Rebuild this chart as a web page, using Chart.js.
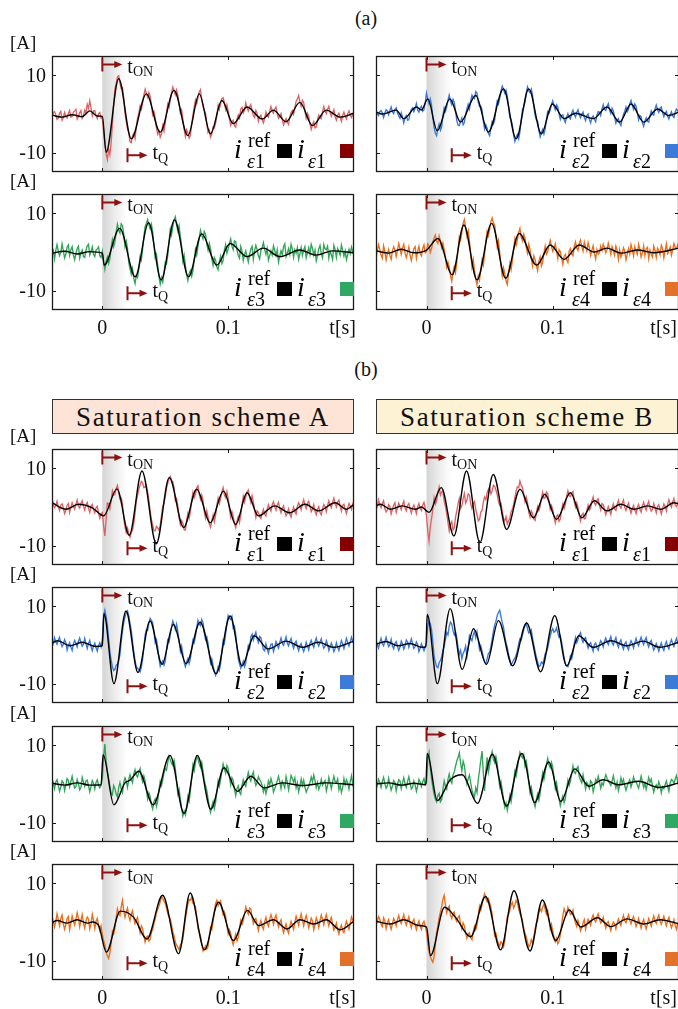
<!DOCTYPE html>
<html>
<head>
<meta charset="utf-8">
<script src="https://cdn.jsdelivr.net/npm/chart.js@4.4.1/dist/chart.umd.min.js"></script>
<style>
  body { margin: 0; width: 678px; height: 1009px; background: #fff; overflow: hidden; position: relative;
         font-family: "Liberation Serif", "DejaVu Serif", serif; color: #111; }
  canvas { position: absolute; }
  .cap { position: absolute; left: 336px; width: 60px; text-align: center; font-size: 20px; }
  .hdr { position: absolute; top: 399px; width: 300px; height: 33px; line-height: 34px; border: 1px solid #333;
         font-size: 27px; letter-spacing: 1.6px; text-align: center; }
</style>
</head>
<body>
<div class="cap" style="top:7px">(a)</div>
<div class="cap" style="top:358px">(b)</div>
<div class="hdr" style="left:52px;background:#fde4d6">Saturation scheme A</div>
<div class="hdr" style="left:376px;background:#fdf3d4">Saturation scheme B</div>
<script>
// time axis of the measured currents: first sample and step [s]
const T0 = -0.04, DT = 0.001;
const T_ON = 0, T_Q = 0.02;
const yTicks = [-10, 10];
const yTickLabels = ['-10', '10'];
const xTicks = [0, 0.1];
const xTickLabels = ['0', '0.1'];

// (a) reference currents (knots) and measured currents, phases 1..4
const refT_a1 = [-0.04,-0.032,-0.024,-0.016,-0.01,-0.004,0,0.003,0.013,0.023,0.035,0.046,0.057,0.068,0.077,0.086,0.095,0.104,0.115,0.127,0.136,0.146,0.157,0.167,0.178,0.189,0.2];
const ref_a1 = [-0.3,-0.8,-0.2,-0.7,0.8,-0.5,-0.6,-9.9,9.1,-6.4,5.2,-4.7,6.1,-5.6,5.2,-5.1,3.5,-2.5,1.8,-1.3,1.0,-2.0,3.0,-3.0,1.0,-0.8,0.2];
const meas_a1 = [-0.8,0.4,0.6,-0.2,-1.4,-1.0,0.2,0.7,-1.6,-0.9,0.4,-0.6,-1.0,0.2,0.9,-0.8,-0.6,0.5,0.8,1.2,
  -1.3,-0.7,0.3,0.9,-1.1,-0.4,1.0,0.3,2.5,1.4,3.4,1.6,-0.5,0.8,0.9,-0.4,-1.2,0.1,0.4,-1.1,
  -0.9,-4.6,-7.5,-10.2,-11.8,-9.1,-10.5,-7.4,-2.5,2.4,6.5,7.9,9.6,9.9,8.0,6.6,6.8,4.1,0.2,-1.9,
  -3.9,-4.8,-7.2,-7.4,-5.6,-5.0,-6.3,-3.2,-1.0,0.3,2.1,1.2,2.8,4.9,6.4,5.3,4.3,5.6,4.6,2.4,
  -0.2,0.6,-1.0,-3.6,-5.2,-4.4,-6.0,-5.1,-3.0,-4.5,-2.4,0.4,2.6,1.7,3.5,5.4,7.0,6.1,5.0,6.2,
  4.9,2.6,0.3,1.1,-1.3,-3.9,-5.8,-4.1,-4.9,-6.2,-5.5,-2.7,-0.3,1.8,3.6,2.6,4.2,5.7,6.3,3.8,
  1.9,1.0,0.2,-2.5,-4.8,-4.2,-6.0,-5.1,-3.4,-3.6,-2.4,-0.5,2.3,1.2,2.7,3.9,4.2,3.0,1.2,2.4,
  0.9,-1.3,-2.9,-2.0,-1.6,-3.0,-3.4,-1.4,-0.2,-1.0,1.2,1.7,0.3,1.0,2.9,1.6,0.8,1.9,2.5,0.9,
  -0.4,-0.9,0.9,0.2,-1.9,-0.7,-0.3,-1.5,-2.3,-1.1,0.5,-0.4,-0.8,0.6,1.9,0.8,0.2,1.3,1.8,0.1,
  -1.1,-0.6,0.1,-1.4,-2.8,-1.9,-1.2,-2.2,-2.7,-0.8,0.4,0.9,-0.1,1.6,3.3,3.9,4.8,3.2,2.0,3.6,
  3.0,0.8,-1.1,0.2,-0.6,-2.6,-4.0,-2.7,-2.0,-3.6,-3.4,-1.6,-0.3,-0.9,-1.2,0.6,1.9,0.8,0.1,1.2,
  2.0,0.4,-0.6,0.3,1.1,-0.7,-1.6,-0.4,0.2,-0.8,-1.9,-0.4,0.5,-0.6,-1.3,0.1,0.8,-0.3,-0.9,-0.1,
  0.6];

const refT_a2 = [-0.04,-0.035,-0.024,-0.018,-0.008,-0.004,0.001,0.0085,0.0185,0.027,0.039,0.049,0.061,0.071,0.081,0.091,0.0997,0.109,0.118,0.132,0.143,0.153,0.162,0.172,0.183,0.192,0.2];
const ref_a2 = [0.5,0,1.0,-1.2,1.8,1.0,3.9,-4.3,3.9,-2.1,4.8,-4.7,6.5,-6.4,6.5,-5.1,2.6,-1.2,0.2,-1.2,1.8,-2.1,2.6,-2.1,1.3,-0.4,0.5];
const meas_a2 = [1.2,0.1,-0.4,0.6,0.9,0.3,-0.9,0.2,1.1,0.8,-0.2,0.9,1.8,0.6,0.1,1.2,1.6,0.3,-0.5,-1.1,
  0.3,-0.8,-2.3,-0.9,-0.4,-1.6,-1.5,0.2,1.2,1.6,0.6,1.5,2.7,1.0,0.5,1.6,2.0,0.7,1.1,3.0,
  5.4,3.8,2.6,3.9,2.3,-0.9,-3.5,-4.9,-5.6,-3.8,-2.6,-4.2,-3.3,-0.4,1.6,0.7,1.8,3.6,4.9,3.3,
  2.4,3.8,2.9,0.9,-1.7,-2.9,-3.0,-1.9,-1.0,-2.8,-2.2,-0.1,1.4,2.5,1.3,3.4,4.9,4.3,4.0,5.8,
  5.4,3.1,1.9,2.0,1.1,-1.8,-3.9,-2.8,-3.7,-5.0,-5.6,-3.6,-2.0,-2.6,-1.6,1.4,3.4,2.6,4.1,6.0,
  7.2,6.4,5.4,6.1,4.6,2.0,-0.9,-1.5,-2.8,-5.4,-7.1,-6.0,-5.3,-6.4,-4.6,-1.5,1.1,1.9,3.0,5.4,
  7.0,6.0,5.5,6.4,4.9,2.0,-0.3,-1.5,-1.8,-4.2,-5.9,-4.8,-4.0,-5.2,-3.9,-1.4,0.6,0.1,1.0,2.5,
  3.4,2.0,1.1,2.4,1.8,0.0,-1.4,-0.4,-0.2,-1.5,-2.2,-0.8,0.1,-0.9,-1.3,0.3,1.0,-0.1,-0.8,0.4,
  1.1,-0.2,-1.0,-0.1,0.5,-0.9,-1.7,-0.4,0.0,-1.4,-2.3,-1.0,-0.5,-1.4,-2.0,-0.3,0.6,0.5,-0.4,1.3,
  2.4,1.2,0.9,2.0,2.7,1.1,0.1,1.5,0.8,-0.9,-2.4,-1.6,-1.2,-2.4,-3.0,-1.4,-0.1,0.7,1.8,0.6,
  1.2,2.6,3.5,2.2,1.2,2.6,2.0,0.3,-1.5,-0.4,-0.7,-2.3,-3.2,-1.8,-1.0,-1.9,-2.1,-0.4,0.8,0.0,
  -0.3,1.4,2.3,1.1,0.4,1.5,1.8,0.4,-0.7,0.2,0.7,-0.6,-1.3,-0.2,0.6,-0.5,-0.9,0.5,1.3,0.9,
  0.1];

const refT_a3 = [-0.04,-0.03,-0.02,-0.01,0,0.0015,0.0138,0.0262,0.0368,0.0468,0.0574,0.0685,0.079,0.091,0.1016,0.115,0.128,0.141,0.157,0.17,0.183,0.2];
const ref_a3 = [-0.3,0.2,-0.5,0.1,-0.3,-3.4,6.1,-6.4,7.6,-7.2,8.3,-6.4,4.7,-3.4,2.2,-1.2,1.0,-1.2,0.5,-0.8,0.3,-0.2];
const meas_a3 = [1.2,0.5,-1.8,0.4,1.9,0.2,-1.0,-0.1,2.1,0.3,-1.5,-0.6,1.3,1.8,-0.9,0.6,1.4,-0.8,-2.0,-0.4,
  0.9,1.5,-1.6,-0.2,0.5,-1.2,-1.4,0.4,1.6,2.0,-0.8,0.1,1.3,-0.6,-1.2,0.5,0.8,1.3,-1.0,-1.4,
  0.2,-2.6,-4.5,-2.4,-1.3,-3.0,-1.8,1.2,3.2,1.4,2.6,5.3,7.2,5.6,4.9,7.3,6.8,4.6,1.4,2.8,
  0.9,-2.7,-4.4,-5.8,-4.3,-6.9,-8.2,-6.1,-6.6,-4.2,-1.2,-2.1,0.6,3.9,6.6,7.4,8.4,7.1,6.0,7.2,
  5.2,1.6,-1.5,-0.6,-3.4,-6.4,-8.3,-6.7,-7.8,-5.6,-2.7,-3.1,-0.9,2.8,5.9,4.4,6.6,8.3,9.1,7.0,
  5.4,6.8,4.1,1.6,-2.3,-0.8,-3.5,-5.9,-7.4,-5.6,-4.8,-6.3,-4.9,-2.0,0.7,-0.8,1.4,3.7,5.6,4.3,
  3.4,5.3,4.6,2.1,0.5,2.3,0.8,-1.7,-3.5,-1.4,-2.1,-3.9,-4.6,-2.5,-1.1,-3.0,-2.2,0.4,1.9,-0.3,
  0.8,2.2,3.4,1.5,0.6,2.9,2.7,0.6,-0.9,-1.6,1.4,0.2,-2.2,-0.7,0.3,-1.2,-2.6,-0.6,0.8,1.5,
  -1.9,0.3,1.7,0.6,-1.0,-1.8,0.4,1.1,2.4,0.7,-0.6,0.9,-2.1,-1.0,0.3,-0.8,1.6,0.4,-0.9,0.6,
  -2.6,-1.1,0.3,-0.7,1.4,2.1,-1.2,-0.3,0.9,-0.6,2.0,0.8,-1.4,0.6,-0.3,1.1,-1.9,-0.5,1.2,-0.9,
  0.5,1.4,-1.5,-0.2,1.1,-0.6,2.0,0.9,-0.8,0.5,-2.3,-0.9,0.8,1.7,-0.4,-1.5,1.9,0.8,0.6,1.5,
  -1.6,0.2,-0.7,-1.9,1.7,0.6,-1.4,0.9,0.2,-0.8,1.8,0.4,-1.1,0.3,-2.0,-0.7,0.7,-0.4,1.3,0.1,
  -1.2];

const refT_a4 = [-0.04,-0.03,-0.02,-0.01,0,0.009,0.0204,0.0296,0.040,0.0516,0.0627,0.0733,0.0873,0.098,0.109,0.121,0.1328,0.143,0.154,0.167,0.18,0.2];
const ref_a4 = [0.3,-0.3,0.7,-0.2,0.5,3.5,-5.9,7.0,-7.2,7.4,-6.8,4.8,-3.4,1.8,-1.9,1.8,0,1.0,-0.3,0.5,-0.2,1.0];
const meas_a4 = [-1.5,0.3,1.9,0.7,-0.8,-1.6,1.6,0.2,-2.1,-0.5,0.7,-0.9,-1.9,0.3,1.4,0.5,-1.2,0.4,2.2,0.9,
  -0.6,1.1,2.0,-0.3,-1.4,-0.2,1.3,-0.8,-2.2,-0.4,0.9,1.4,-1.6,0.2,1.5,-0.4,-1.0,0.9,1.8,-0.2,
  0.2,2.1,1.6,-0.1,0.9,2.4,3.6,4.4,2.8,2.2,4.2,2.9,1.1,2.3,0.6,-1.4,-3.9,-2.6,-4.0,-6.1,
  -7.6,-5.2,-3.8,-5.3,-2.7,0.8,3.9,3.0,5.1,7.4,8.4,6.3,4.1,5.5,2.8,-0.2,-3.8,-1.9,-4.9,-7.0,
  -8.5,-6.2,-7.3,-4.5,-2.0,-3.4,-0.6,2.7,5.3,4.2,5.8,7.9,8.8,7.6,6.9,4.0,1.3,2.9,-0.2,-3.6,
  -6.2,-4.1,-5.6,-7.5,-8.4,-5.4,-3.0,-4.6,-2.3,0.9,3.4,1.8,3.2,5.0,6.1,3.9,2.9,4.6,3.7,1.2,
  -0.3,2.0,0.6,-1.8,-3.6,-1.0,-2.0,-3.4,-4.8,-2.4,-1.3,-3.6,-2.6,-0.4,1.5,-0.6,0.1,1.7,3.0,1.4,
  0.2,0.9,2.1,0.3,-1.7,0.6,0.1,-1.6,-3.2,-1.1,-0.6,-2.0,-2.7,0.2,0.9,-0.5,-1.0,1.4,2.6,1.0,
  0.4,2.2,3.1,1.4,0.2,2.6,1.4,0.3,2.4,1.1,-0.9,0.4,1.6,-0.5,-1.8,0.6,-0.6,-0.2,1.5,0.4,
  2.0,1.1,-0.2,0.6,2.3,1.0,-0.6,1.4,0.4,-0.8,1.5,0.4,-1.9,0.6,-1.3,-0.4,1.1,0.3,-2.0,-0.6,
  0.9,-0.5,1.9,0.6,-1.0,1.4,0.3,-0.6,2.0,0.7,-1.3,-0.2,1.6,-0.9,0.8,1.2,-1.7,0.5,-0.6,-1.3,
  1.5,0.4,-1.4,1.0,0.4,-0.7,1.7,0.9,-1.5,0.3,2.1,-0.4,0.2,1.3,-0.8,0.6,2.2,1.1,0.9,1.8,
  0.3];

// (b) saturation scheme A
const refT_sA1 = [-0.04,-0.029,-0.019,-0.008,0.001,0.0116,0.0214,0.0315,0.0429,0.0532,0.0646,0.075,0.0857,0.0963,0.106,0.115,0.124,0.137,0.149,0.161,0.172,0.185,0.194,0.2];
const ref_sA1 = [1.1,-0.6,0.7,-0.2,-2.3,4.7,-7.3,9.3,-9.5,7.6,-5.3,4.6,-4.1,4.1,-4.5,3.7,-2.3,0.3,-1.5,0.7,-1.0,1.1,-0.6,0.7];
const meas_sA1 = [2.2,0.6,-0.2,0.3,1.5,0.1,-0.9,0.5,0.8,-0.2,-1.7,-0.9,0.4,0.9,-1.4,-0.1,1.1,0.2,-0.5,0.7,
  1.8,0.2,-0.3,0.9,1.6,0.3,-0.8,0.6,1.2,-0.3,-1.4,0.2,0.7,-0.6,-1.5,-0.2,0.2,-1.6,-2.9,-1.8,
  -1.4,-4.8,-7.5,-3.2,1.0,0.9,-0.4,1.6,4.2,3.1,3.3,4.8,5.6,3.9,2.0,2.3,0.8,-2.6,-5.2,-6.6,
  -5.5,-6.9,-7.8,-6.6,-6.0,-4.2,-1.5,1.4,3.0,4.6,5.7,6.6,6.3,5.0,5.2,5.6,3.9,1.8,-1.0,-3.2,
  -4.6,-6.1,-6.2,-5.0,-5.4,-6.0,-4.7,-2.2,0.2,0.9,2.6,4.9,6.1,7.4,7.9,6.8,6.6,4.9,1.6,2.2,
  0.3,-2.8,-4.6,-3.5,-4.1,-5.9,-6.0,-3.4,-1.6,-2.9,-1.2,1.7,3.8,2.4,3.3,4.9,5.5,3.4,2.0,3.1,
  1.7,-1.2,-2.8,-1.0,-2.6,-4.4,-5.2,-3.6,-2.1,-3.8,-2.2,0.4,2.3,0.9,2.2,3.9,5.0,3.1,2.4,4.0,
  2.2,-0.4,-2.6,-1.2,-2.5,-4.3,-5.4,-3.6,-2.5,-4.0,-2.2,0.6,2.8,1.3,2.6,3.8,4.4,2.6,1.2,2.9,
  1.3,-0.8,-2.7,-1.0,-1.4,-2.5,-3.0,-1.6,-0.6,-1.8,-2.3,-0.6,0.6,-0.3,-1.1,0.6,1.4,0.1,-0.8,0.5,
  1.2,-0.4,-1.5,-0.3,0.3,-1.2,-2.3,-1.6,-0.5,-1.8,-2.6,-1.0,0.0,-1.2,-1.8,0.2,1.1,0.4,-0.7,0.8,
  1.9,0.5,-0.4,0.9,1.5,0.1,-1.2,-0.5,0.6,-1.1,-2.0,-0.6,0.1,-1.4,-2.0,-0.5,0.6,0.1,-1.2,0.4,
  1.6,0.5,-0.2,1.2,2.3,0.9,0.0,1.3,1.8,0.2,-1.0,0.4,0.7,-0.6,-1.7,-0.3,0.9,0.3,-0.6,0.8,
  1.6];

const refT_sA2 = [-0.04,-0.0354,-0.0258,-0.0162,-0.0051,0,0.0013,0.0092,0.0188,0.0283,0.0379,0.0475,0.0564,0.0666,0.0777,0.0904,0.1016,0.111,0.1207,0.1318,0.146,0.159,0.1717,0.184,0.2];
const ref_sA2 = [0.5,1.1,-0.2,0.7,-0.4,-0.2,8.1,-10.0,8.8,-7.1,6.2,-5.0,5.3,-4.8,5.9,-7.4,7.5,-5.4,2.4,-1.0,1.0,-0.6,0.7,-0.6,1.0];
const meas_sA2 = [-0.6,0.4,1.9,0.8,0.2,1.3,2.0,0.5,-0.4,0.2,1.4,0.6,-1.3,-0.1,0.6,-0.5,-1.4,0.3,1.2,0.4,
  -0.5,0.9,1.8,0.6,-0.3,0.2,1.7,0.3,-0.9,0.4,1.2,-0.4,-1.5,-0.3,0.5,-0.7,-1.6,-0.2,0.6,-0.5,
  1.5,7.6,9.0,7.4,5.2,1.6,-1.8,-3.9,-5.6,-6.6,-6.3,-5.2,-5.0,-4.1,-2.4,0.9,3.6,5.8,7.2,8.3,
  8.8,7.6,5.6,3.8,0.9,-1.7,-4.1,-5.6,-6.0,-6.4,-7.0,-5.8,-3.7,-0.6,2.6,3.9,3.8,5.7,6.9,6.4,
  5.8,3.3,0.6,1.4,-0.6,-3.4,-5.5,-4.6,-4.1,-5.2,-4.2,-1.2,1.3,0.8,2.5,4.6,6.2,5.3,4.0,5.4,
  3.5,1.1,-1.6,-0.3,-2.4,-4.5,-5.6,-4.4,-3.5,-4.8,-3.6,-0.9,1.3,0.6,2.2,4.5,6.4,5.4,5.0,6.6,
  5.8,3.2,1.4,2.1,0.4,-2.4,-4.7,-3.6,-5.3,-6.8,-7.9,-7.1,-5.7,-6.6,-4.9,-1.6,1.2,0.4,3.0,5.6,
  7.6,6.9,6.6,7.4,4.4,4.9,2.8,-0.6,-3.5,-4.9,-6.0,-5.1,-4.2,-5.6,-4.6,-2.1,-0.1,-0.9,2.1,2.8,
  1.3,2.5,3.3,1.6,0.6,2.2,1.9,0.2,-1.2,-1.5,0.3,-0.9,-2.1,-0.8,0.2,0.3,-1.7,-0.6,0.9,0.1,
  -0.8,0.6,1.8,0.4,-0.1,1.0,2.1,0.5,-0.2,0.9,1.7,0.2,-0.9,0.5,1.0,-0.4,-1.5,-0.2,0.4,-0.8,
  -1.7,-0.6,0.7,-0.3,-1.3,0.4,1.2,0.1,-0.6,0.8,1.8,0.5,-0.3,0.7,1.6,0.2,-0.8,-0.3,1.1,0.2,
  -1.4,-0.5,0.5,-0.4,-1.7,-0.9,0.6,-0.5,-1.4,-0.2,1.1,0.3,-0.9,0.4,1.7,0.6,-0.3,0.8,2.0,0.9,
  0.2];

const refT_sA3 = [-0.04,-0.03,-0.02,-0.01,-0.001,0.0006,0.0092,0.018,0.022,0.029,0.0404,0.0538,0.065,0.0755,0.0863,0.0968,0.1073,0.118,0.1287,0.143,0.159,0.178,0.2];
const ref_sA3 = [0.2,-0.3,0.3,-0.3,-0.2,7.6,-5.4,0.3,1.0,3.3,-5.4,7.4,-7.6,7.4,-6.5,4.2,-1.9,2.0,-1.0,0.3,-0.4,0.3,-0.2];
const meas_sA3 = [1.6,0.2,-1.2,0.5,1.1,-0.3,-1.9,-0.8,0.8,0.4,-1.7,-0.2,1.4,0.9,-0.8,0.6,2.0,0.3,-1.0,-0.7,
  1.2,0.1,-1.5,-0.9,1.7,0.5,-0.6,0.8,1.0,-0.4,-2.0,-0.6,0.9,0.2,-1.3,0.4,1.1,-0.3,-1.0,-0.4,
  1.5,6.8,10.3,6.0,3.2,1.5,-0.6,-2.4,-2.8,-0.4,-1.2,-2.6,-3.4,-1.0,0.4,-1.3,-2.2,0.5,1.6,0.7,
  -0.9,1.1,2.4,1.2,0.3,2.6,3.7,2.2,1.8,3.1,4.0,1.9,0.6,2.1,0.9,-1.6,-3.8,-2.3,-3.2,-5.4,
  -6.5,-4.6,-3.9,-5.8,-4.5,-1.6,0.7,-0.4,1.1,2.9,4.0,3.6,5.6,7.2,6.3,5.4,4.8,6.1,4.0,0.6,
  -2.6,-1.4,-3.9,-6.4,-8.3,-7.0,-8.0,-5.9,-3.2,-4.4,-1.8,1.6,4.9,3.5,5.4,7.1,6.6,5.2,4.3,5.6,
  3.4,1.0,-0.4,-1.6,-3.8,-5.9,-7.3,-5.7,-4.6,-6.4,-4.8,-1.9,0.8,-0.6,1.1,3.4,5.2,3.9,2.8,4.8,
  4.0,1.9,-0.2,1.6,0.9,-1.4,-3.0,-1.2,-0.5,-2.1,-2.7,-0.3,1.1,0.0,-0.6,1.5,3.0,1.6,0.8,2.2,
  3.1,0.9,-0.4,0.3,1.9,1.2,0.6,-0.4,-2.0,-0.6,-2.5,-1.1,0.8,-0.3,1.4,0.2,-2.1,-1.2,-0.3,0.8,
  2.0,0.6,-1.2,0.7,-0.1,-1.0,1.9,0.4,-1.5,0.3,2.2,1.4,0.5,1.6,-1.0,0.3,-2.0,-0.6,1.3,-0.3,
  1.0,-0.8,-2.1,-1.3,-0.6,0.4,1.8,0.6,2.3,0.9,-0.9,0.4,-1.4,-0.5,1.2,-0.3,0.3,0.9,-1.8,-0.4,
  1.7,0.2,-1.2,0.5,2.0,0.7,0.4,1.3,-1.5,-0.2,-2.2,-0.9,1.4,-0.2,1.1,0.3,-1.3,0.6,2.1,-0.1,
  1.2];

const refT_sA4 = [-0.04,-0.036,-0.028,-0.02,-0.012,-0.008,-0.003,0.0032,0.0143,0.0249,0.0354,0.0479,0.0606,0.0698,0.0812,0.0923,0.1042,0.1153,0.1243,0.136,0.1467,0.157,0.168,0.178,0.189,0.2];
const ref_sA4 = [-0.2,0.4,-0.3,0.6,-0.3,0.0,-0.9,-7.8,2.8,1.2,-4.4,6.9,-8.2,7.5,-7.2,5.1,-4.8,3.0,-0.9,0.6,-1.8,0.6,-0.5,0.6,-2.0,0.2];
const meas_sA4 = [1.4,0.3,-1.3,0.1,2.1,0.6,-1.0,0.9,1.8,-0.4,-1.9,-0.6,0.9,1.4,-2.0,-0.3,1.6,0.2,-0.8,0.7,
  2.4,1.0,-1.2,0.5,1.9,-0.2,-1.6,0.3,1.3,0.8,-1.8,-0.5,2.0,0.4,-1.7,0.2,0.9,-0.8,-2.3,-1.0,
  -3.2,-4.8,-5.9,-7.8,-8.7,-9.4,-8.0,-5.4,-2.4,-3.1,-1.6,1.2,3.4,2.2,1.7,3.9,5.6,2.8,1.2,2.6,
  3.6,1.5,0.4,2.0,2.9,0.9,-0.4,0.6,1.2,-1.1,-2.8,-1.0,-1.7,-3.6,-5.2,-3.9,-3.6,-4.9,-4.5,-2.6,
  -2.0,-0.4,0.7,2.4,3.2,4.1,5.2,6.6,6.1,5.4,4.8,3.6,2.1,1.3,0.9,-0.7,-2.5,-3.6,-5.2,-6.0,
  -6.5,-7.2,-5.9,-5.4,-4.4,-1.8,0.8,2.6,4.6,5.8,5.6,6.4,4.9,4.6,3.9,1.4,-1.8,-2.6,-3.6,-5.6,
  -7.5,-6.9,-6.2,-7.0,-6.4,-3.6,-1.3,-1.9,0.0,2.6,4.8,5.6,4.2,4.9,5.5,3.4,1.9,2.6,1.5,-1.0,
  -3.1,-2.0,-3.0,-4.6,-5.9,-4.6,-3.2,-4.9,-4.0,-1.6,0.4,-0.6,0.3,2.2,3.9,2.8,2.0,3.6,3.4,1.2,
  -0.4,0.6,0.9,-0.7,-2.2,-0.6,0.4,-1.2,-1.9,0.1,1.2,-0.4,-1.1,0.6,1.9,0.8,-0.6,0.9,1.8,0.2,
  -1.3,-0.1,0.6,-1.4,-2.8,-1.6,-0.5,-2.0,-2.9,-1.1,0.2,-0.9,-1.9,0.1,1.5,0.4,-0.9,0.8,2.1,0.5,
  -1.0,0.6,1.7,0.2,-1.5,-0.4,1.0,0.3,-2.0,-0.7,1.1,0.2,-1.4,0.4,1.8,0.6,-0.7,0.8,1.9,0.3,
  -1.0,0.4,1.2,-0.6,-2.1,-1.4,-0.3,-2.0,-3.1,-1.6,-0.8,-2.2,-2.8,-1.0,0.2,-0.8,-1.9,-0.4,1.3,0.5,
  -0.9];

// (b) saturation scheme B
const refT_sB1 = [-0.04,-0.0365,-0.0286,-0.0193,-0.0087,-0.004,0.002,0.0117,0.0217,0.0317,0.0423,0.0529,0.0635,0.0741,0.0847,0.0937,0.103,0.114,0.123,0.133,0.143,0.154,0.1646,0.175,0.1858,0.196,0.2];
const ref_sB1 = [0.3,0.7,-0.6,0.3,-0.6,0.0,-1.4,5.0,-7.5,9.3,-9.2,8.4,-5.8,4.6,-2.8,3.3,-3.2,3.7,-2.8,1.6,-1.0,0.7,-0.6,0.3,-0.6,1.1,0.8];
const meas_sB1 = [-0.9,0.2,1.8,0.6,-0.2,0.9,1.6,-0.4,-1.3,-0.8,0.6,0.1,-1.8,-0.6,0.5,1.1,-1.4,-0.2,1.0,0.2,
  -0.7,0.6,1.5,-0.3,-1.0,0.4,0.9,-0.5,-1.6,-0.2,0.5,-0.6,-1.7,0.1,0.9,-0.4,-0.9,0.5,1.2,-0.3,
  -2.4,-6.2,-8.8,-5.1,-3.0,-0.6,2.4,0.7,1.6,3.8,5.2,3.1,3.9,4.2,1.5,0.2,-1.8,-4.0,-6.2,-4.5,
  -3.8,-6.0,-5.4,-2.6,-1.0,0.8,2.2,-0.4,0.3,2.1,3.5,1.0,1.8,3.4,3.1,0.9,-0.4,0.8,1.4,-0.6,
  -2.0,-3.6,-3.2,-1.3,-0.9,1.2,2.6,1.9,3.7,4.6,5.1,3.4,4.2,5.6,5.3,4.4,3.2,1.4,0.4,0.9,
  -1.2,-2.9,-3.6,-2.5,-4.4,-3.6,-2.9,-1.2,-0.6,0.6,2.4,4.1,5.2,5.0,6.7,5.6,5.1,3.3,1.4,2.6,
  1.2,-1.4,-2.6,-1.0,-1.7,-3.1,-3.5,-1.6,0.1,-0.9,0.2,2.2,3.8,2.2,2.4,3.9,3.4,1.4,-0.6,0.4,
  -0.7,-2.6,-4.1,-2.4,-2.0,-3.7,-3.1,-0.9,0.8,-0.4,0.6,2.8,4.2,2.9,2.7,3.6,4.0,1.6,0.0,1.1,
  -0.1,-2.1,-3.6,-2.0,-1.6,-3.1,-2.9,-0.9,0.5,-0.8,-0.3,1.6,2.6,1.0,0.5,1.7,2.1,0.4,-0.8,0.9,
  0.6,-0.6,-2.0,-0.8,0.1,-1.0,-1.9,-0.2,0.8,-0.5,-0.9,0.6,1.7,0.3,-0.3,0.9,1.8,-0.1,-0.9,0.2,
  1.0,-0.6,-1.6,-0.4,0.4,-0.8,-1.7,-0.1,0.7,-0.6,-1.3,0.3,1.2,-0.1,-0.8,0.6,1.5,-0.2,-1.1,-0.6,
  0.9,-0.3,-1.5,0.1,0.6,-0.7,-1.8,-0.4,0.8,0.1,-1.0,0.7,1.9,0.8,0.0,1.3,2.2,0.5,0.1,0.9,
  1.7];

const refT_sB2 = [-0.04,-0.0322,-0.0226,-0.0131,-0.0035,-0.0005,0.0006,0.0086,0.0188,0.0283,0.0373,0.0475,0.057,0.0682,0.0793,0.0904,0.1016,0.1111,0.1207,0.1318,0.1462,0.1589,0.1717,0.1844,0.2];
const ref_sB2 = [0.2,0.9,-0.2,0.4,-0.6,-0.4,7.9,-10.0,9.4,-6.3,4.2,-5.0,6.3,-5.4,5.7,-6.9,7.6,-5.4,2.4,-0.6,1.1,-0.2,1.0,-0.6,0.7];
const meas_sB2 = [1.3,0.2,-0.8,0.6,1.7,0.4,-0.2,0.9,2.0,0.7,-0.4,0.1,1.5,-0.2,-1.0,0.4,0.9,-0.3,-1.4,-0.6,
  1.0,0.3,-1.1,-0.2,1.3,0.8,-0.6,0.5,1.6,0.2,-0.9,-0.4,0.8,0.1,-1.7,-0.8,0.3,-0.6,-1.5,-0.5,
  0.6,4.8,6.2,5.5,4.0,0.9,-2.8,-4.4,-5.6,-5.9,-4.6,-4.0,-3.1,-1.4,-0.4,1.4,3.2,2.6,4.8,5.9,
  5.4,3.7,2.6,3.4,1.9,-0.7,-2.4,-1.4,-3.6,-2.2,-1.5,-0.3,-3.0,-0.6,2.4,1.7,1.1,2.6,3.5,1.9,
  3.4,1.1,-1.2,-0.2,-1.6,-3.1,-4.4,-4.8,-3.6,-2.2,-1.9,-0.4,1.5,3.6,5.2,6.1,7.6,8.4,9.0,7.3,
  5.8,4.6,2.2,0.6,-0.6,-2.4,-3.8,-5.1,-4.6,-3.9,-3.4,-2.6,-1.4,0.3,1.6,1.2,2.5,4.0,4.9,5.6,
  4.2,3.1,3.3,3.9,1.8,0.1,-1.6,-3.1,-4.3,-5.6,-5.4,-4.4,-4.8,-3.9,-2.3,-1.9,-0.8,0.9,2.3,3.6,
  4.2,3.3,3.6,4.4,3.1,2.0,2.4,0.9,-1.2,-3.3,-4.8,-5.4,-5.6,-4.6,-2.9,-3.6,-2.1,0.2,1.9,0.6,
  1.4,2.6,3.2,1.5,0.7,1.6,1.9,0.4,-0.8,0.2,0.6,-0.5,-1.6,0.1,0.5,-0.7,-1.3,0.2,1.1,0.5,
  -0.5,0.9,1.8,0.8,0.1,1.3,2.2,0.6,0.0,1.1,1.9,0.3,-0.6,0.7,1.3,-0.2,-1.1,0.3,0.8,-0.5,
  -1.2,0.2,1.1,0.4,-0.8,0.6,1.7,0.5,-0.2,1.1,2.0,0.9,0.1,1.2,1.9,0.4,-0.5,0.7,1.2,-0.2,
  -1.3,-0.6,0.4,-0.5,-1.6,-0.4,0.5,-0.7,-1.4,0.1,0.9,-0.3,-1.0,0.5,1.4,0.3,-0.4,0.8,1.7,0.6,
  0.0];

const refT_sB3 = [-0.04,-0.03,-0.02,-0.01,-0.0005,0.0006,0.0086,0.0188,0.0283,0.0404,0.0522,0.0634,0.0755,0.0857,0.0968,0.1064,0.1175,0.1287,0.14,0.1525,0.168,0.184,0.2];
const ref_sB3 = [0.0,0.3,-0.3,0.2,-0.2,7.9,-4.3,1.1,2.4,-5.0,7.7,-5.7,7.9,-4.8,5.7,-4.5,3.9,-0.6,1.1,-0.2,0.7,-0.9,0.3];
const meas_sB3 = [-1.5,-0.3,1.2,0.4,-0.9,0.6,1.7,0.2,-1.1,-0.5,1.5,-0.1,-1.6,-0.6,0.9,0.4,-1.8,-0.2,1.1,0.8,
  -1.2,0.3,1.6,0.1,-0.9,0.7,1.9,0.2,-1.3,-0.8,0.8,-0.3,-1.9,-0.4,1.2,0.5,-0.7,0.6,1.4,-0.2,
  0.3,6.4,8.1,4.3,1.4,-0.9,-2.7,-3.9,-4.6,-3.0,-2.4,-4.6,-4.1,-1.4,0.8,-0.6,-1.3,1.2,2.6,0.9,
  0.2,2.4,3.1,4.6,5.9,6.9,8.1,5.4,3.4,5.9,4.8,2.0,0.1,1.4,2.3,0.3,-1.6,-2.6,-3.4,-1.0,
  -2.2,1.1,3.5,6.2,8.5,2.9,-1.8,3.4,6.9,3.1,4.8,7.0,8.4,6.3,5.5,7.1,5.3,2.0,-0.7,0.6,
  -1.5,-4.1,-6.0,-4.9,-6.8,-5.0,-3.0,-4.6,-2.4,0.6,3.3,2.1,4.0,6.4,8.2,7.3,6.8,7.6,4.7,5.9,
  3.8,0.4,-2.3,-0.9,-2.8,-4.6,-5.9,-4.0,-2.6,-4.2,-2.5,0.6,2.8,1.2,3.1,5.1,6.6,4.9,4.2,5.6,
  4.3,1.7,-1.2,0.3,-2.0,-3.9,-5.6,-4.2,-3.1,-4.8,-3.7,-1.1,1.0,-0.4,0.7,2.6,4.7,3.0,2.7,4.0,
  4.5,1.9,1.0,0.3,2.4,0.6,-1.3,0.4,-0.2,-1.1,0.8,0.3,-2.0,-0.6,1.2,0.5,2.0,0.6,-1.1,0.3,
  -0.3,1.2,2.4,1.5,0.9,0.2,-0.4,0.8,2.1,0.4,-1.0,0.5,-1.7,-0.3,1.6,0.2,1.2,-0.4,-1.6,-0.5,
  0.4,1.1,-0.8,0.3,1.8,0.6,0.7,-0.3,-1.1,0.4,2.0,0.6,-0.9,0.2,-1.4,0.1,1.7,0.4,1.3,-0.5,
  -2.1,-0.8,-0.2,-1.1,0.6,-0.4,-2.3,-0.7,-1.2,-0.2,0.8,-0.6,-1.9,0.2,1.2,0.9,0.1,1.3,2.2,0.5,
  -0.6];

const refT_sB4 = [-0.04,-0.0286,-0.018,-0.006,0.0,0.0032,0.0143,0.023,0.0349,0.0468,0.0587,0.0693,0.082,0.0918,0.1024,0.113,0.1222,0.1354,0.146,0.159,0.172,0.185,0.2];
const ref_sB4 = [0.2,-0.5,0.6,-0.9,-1.3,-8.7,3.8,1.2,-3.8,6.6,-7.2,8.1,-7.5,5.7,-4.8,3.1,-1.3,1.1,-1.2,0.8,-0.5,0.6,-0.5];
const meas_sB4 = [-1.1,0.2,1.4,0.7,-0.6,-1.2,1.1,0.3,-1.7,-0.2,0.6,-0.8,-1.9,-0.4,0.9,0.2,-1.0,0.6,1.7,0.3,
  -0.4,0.8,1.9,0.2,-0.8,0.4,1.4,-0.3,-1.5,0.1,0.7,-0.9,-2.0,-0.6,0.3,-1.2,-1.9,-0.4,0.2,-1.1,
  -2.5,-5.6,-7.6,-8.9,-9.8,-10.4,-9.0,-5.8,-2.6,-1.0,1.2,2.6,4.0,5.9,6.9,4.4,2.4,3.6,4.1,1.8,
  0.9,2.2,2.6,0.8,0.1,1.2,1.6,-0.6,-1.8,-0.2,-1.0,-2.9,-4.2,-3.1,-2.8,-4.0,-4.6,-2.6,-1.1,-2.0,
  -0.8,1.6,4.1,3.0,4.4,6.2,7.3,6.1,5.2,6.0,5.0,3.8,2.0,-0.9,-3.6,-3.0,-4.6,-5.6,-6.2,-5.1,
  -5.5,-6.4,-4.9,-1.6,1.5,1.9,3.0,4.4,5.1,3.6,4.4,5.6,5.0,3.4,2.1,1.4,0.4,-1.6,-3.0,-3.8,
  -5.2,-6.4,-6.0,-4.6,-5.4,-3.9,-1.7,-0.2,0.3,2.4,3.5,2.7,3.8,4.6,3.2,2.0,3.0,0.6,-1.9,-0.6,
  -2.4,-4.0,-5.1,-4.2,-5.6,-4.9,-3.4,-0.6,1.6,3.4,2.4,1.9,3.8,2.9,1.9,2.2,3.1,0.9,-0.3,-1.2,
  0.4,-0.9,-2.3,-1.4,-0.2,0.6,-1.9,-0.5,0.7,0.1,-0.8,0.9,1.8,0.6,0.0,1.3,2.1,0.8,-0.3,0.2,
  1.2,-0.4,-1.6,-0.2,0.1,-1.1,-2.2,-0.8,0.0,-0.6,-1.8,-0.3,0.8,-0.1,-0.9,0.6,1.7,0.4,-0.2,0.9,
  1.9,0.5,-0.5,0.7,1.4,0.2,-1.2,-0.3,0.9,-0.4,-1.6,-0.2,0.7,-0.7,-1.8,-0.5,0.9,0.1,-1.1,0.4,
  1.6,0.3,-0.4,0.9,1.8,0.2,-0.6,0.5,1.5,0.1,-1.0,0.4,1.2,-0.3,-1.5,-0.6,0.6,-0.9,-1.9,-0.4,
  0.3];

const lineColor = { 1: '#dc6363', 2: '#3a78d6', 3: '#33a35a', 4: '#e86f1e' };
const keyColor  = { 1: '#850000', 2: '#3c7cd8', 3: '#2ea862', 4: '#e4712a' };
const MARK = '#8c1111';
const SERIF = '"Liberation Serif", "DejaVu Serif", serif';

const panels = [
  { phase: 1, col: 0, top: 56,  refT: refT_a1,  ref: ref_a1,  meas: meas_a1 },
  { phase: 2, col: 1, top: 56,  refT: refT_a2,  ref: ref_a2,  meas: meas_a2 },
  { phase: 3, col: 0, top: 194, refT: refT_a3,  ref: ref_a3,  meas: meas_a3, xAxis: true },
  { phase: 4, col: 1, top: 194, refT: refT_a4,  ref: ref_a4,  meas: meas_a4, xAxis: true },
  { phase: 1, col: 0, top: 449, refT: refT_sA1, ref: ref_sA1, meas: meas_sA1 },
  { phase: 1, col: 1, top: 449, refT: refT_sB1, ref: ref_sB1, meas: meas_sB1 },
  { phase: 2, col: 0, top: 587, refT: refT_sA2, ref: ref_sA2, meas: meas_sA2 },
  { phase: 2, col: 1, top: 587, refT: refT_sB2, ref: ref_sB2, meas: meas_sB2 },
  { phase: 3, col: 0, top: 726, refT: refT_sA3, ref: ref_sA3, meas: meas_sA3 },
  { phase: 3, col: 1, top: 726, refT: refT_sB3, ref: ref_sB3, meas: meas_sB3 },
  { phase: 4, col: 0, top: 864, refT: refT_sA4, ref: ref_sA4, meas: meas_sA4, xAxis: true },
  { phase: 4, col: 1, top: 864, refT: refT_sB4, ref: ref_sB4, meas: meas_sB4, xAxis: true }
];

const PLOT_H = 116, HEAD = 30, FOOT = 4, XLAB = 32;

// epsilon subscript with phase number
function drawSub(ctx, x, y, phase) {
  ctx.font = 'italic 20px ' + SERIF;
  ctx.fillText('\u03b5', x, y);
  const w = ctx.measureText('\u03b5').width;
  ctx.font = '20px ' + SERIF;
  ctx.fillText(String(phase), x + w, y);
}

function drawKey(ctx, a, phase) {
  const R = a.right, B = a.bottom;
  ctx.textAlign = 'left';
  ctx.textBaseline = 'alphabetic';
  ctx.fillStyle = '#000';
  ctx.font = 'italic 28px ' + SERIF;
  ctx.fillText('i', R - 120, B - 14);
  ctx.font = '20px ' + SERIF;
  ctx.fillText('ref', R - 106, B - 25);
  drawSub(ctx, R - 107, B - 4, phase);
  ctx.fillRect(R - 77, B - 28, 15, 14);
  ctx.font = 'italic 28px ' + SERIF;
  ctx.fillText('i', R - 57, B - 14);
  drawSub(ctx, R - 46, B - 4, phase);
  ctx.fillStyle = keyColor[phase];
  ctx.fillRect(R - 14, B - 28, 14, 14);
}

// switching instant: bar, arrow and label t_sub
function drawMarker(ctx, x, y, sub, dyT, dySub) {
  ctx.strokeStyle = MARK;
  ctx.fillStyle = MARK;
  ctx.lineWidth = 2;
  ctx.beginPath();
  ctx.moveTo(x, y - 7); ctx.lineTo(x, y + 7);
  ctx.moveTo(x, y); ctx.lineTo(x + 13, y);
  ctx.stroke();
  ctx.beginPath();
  ctx.moveTo(x + 20, y); ctx.lineTo(x + 12, y - 3.5); ctx.lineTo(x + 12, y + 3.5);
  ctx.closePath(); ctx.fill();
  ctx.fillStyle = '#111';
  ctx.textAlign = 'left';
  ctx.textBaseline = 'alphabetic';
  ctx.font = '20px ' + SERIF;
  ctx.fillText('t', x + 25, y + dyT);
  const w = ctx.measureText('t').width;
  ctx.font = '14px ' + SERIF;
  ctx.fillText(sub, x + 25 + w, y + dySub);
}

function makeDecor(p) {
  return {
    id: 'panelDecor',
    beforeDatasetsDraw(chart) {
      const { ctx, chartArea: a, scales: { x } } = chart;
      const x0 = x.getPixelForValue(T_ON), x1 = x.getPixelForValue(T_Q);
      const g = ctx.createLinearGradient(x0, 0, x1, 0);
      g.addColorStop(0, 'rgba(0,0,0,0.17)');
      g.addColorStop(0.5, 'rgba(0,0,0,0.07)');
      g.addColorStop(1, 'rgba(0,0,0,0)');
      ctx.save();
      ctx.fillStyle = g;
      ctx.fillRect(x0, a.top, x1 - x0, a.bottom - a.top);
      ctx.restore();
    },
    afterDatasetsDraw(chart) {
      const { ctx, chartArea: a, scales: { x, y } } = chart;
      ctx.save();
      // frame and ticks
      ctx.strokeStyle = '#1a1a1a';
      ctx.lineWidth = 1.3;
      ctx.strokeRect(a.left + 0.5, a.top + 0.5, a.right - a.left - 1, a.bottom - a.top - 1);
      ctx.lineWidth = 1;
      ctx.beginPath();
      yTicks.forEach(v => {
        const py = Math.round(y.getPixelForValue(v)) + 0.5;
        ctx.moveTo(a.left, py); ctx.lineTo(a.left + 4, py);
        ctx.moveTo(a.right, py); ctx.lineTo(a.right - 4, py);
      });
      xTicks.forEach(v => {
        const px = Math.round(x.getPixelForValue(v)) + 0.5;
        ctx.moveTo(px, a.top); ctx.lineTo(px, a.top + 4);
        ctx.moveTo(px, a.bottom); ctx.lineTo(px, a.bottom - 4);
      });
      ctx.stroke();

      drawMarker(ctx, x.getPixelForValue(T_ON), y.getPixelForValue(12.8), 'ON', 8, 11);
      drawMarker(ctx, x.getPixelForValue(T_Q), y.getPixelForValue(-10.7), 'Q', 4, 8);
      drawKey(ctx, a, p.phase);

      ctx.fillStyle = '#111';
      if (p.col === 0) {
        ctx.font = '20px ' + SERIF;
        ctx.textAlign = 'right';
        ctx.textBaseline = 'middle';
        yTicks.forEach((v, i) => ctx.fillText(yTickLabels[i], a.left - 6, y.getPixelForValue(v) + 1));
        ctx.textAlign = 'left';
        ctx.textBaseline = 'alphabetic';
        ctx.font = '19px ' + SERIF;
        ctx.fillText('[A]', 10, a.top - 7);
      }
      if (p.xAxis) {
        ctx.font = '20px ' + SERIF;
        ctx.textBaseline = 'alphabetic';
        ctx.textAlign = 'center';
        xTicks.forEach((v, i) => ctx.fillText(xTickLabels[i], x.getPixelForValue(v), a.bottom + 24));
        ctx.textAlign = 'right';
        ctx.fillText('t[s]', p.col === 0 ? a.right + 2 : a.right - 2, a.bottom + 24);
      }
      ctx.restore();
    }
  };
}

panels.forEach(p => {
  const cv = document.createElement('canvas');
  const left = p.col === 0 ? 0 : 370;
  const w = p.col === 0 ? 358 : 313;
  const padL = p.col === 0 ? 52 : 6;
  const padB = FOOT + (p.xAxis ? XLAB : 0);
  cv.width = w;
  cv.height = HEAD + PLOT_H + padB;
  cv.style.left = left + 'px';
  cv.style.top = (p.top - HEAD) + 'px';
  document.body.appendChild(cv);

  new Chart(cv, {
    type: 'line',
    data: {
      datasets: [
        {
          data: p.refT.map((t, i) => ({ x: t, y: p.ref[i] })),
          borderColor: '#000',
          borderWidth: 1.4,
          pointRadius: 0,
          cubicInterpolationMode: 'monotone'
        },
        {
          data: p.meas.map((v, k) => ({ x: T0 + k * DT, y: v })),
          borderColor: lineColor[p.phase],
          borderWidth: 1.35,
          pointRadius: 0,
          tension: 0
        }
      ]
    },
    options: {
      responsive: false,
      animation: false,
      devicePixelRatio: 1,
      events: [],
      layout: { padding: { left: padL, right: 4, top: HEAD, bottom: padB } },
      scales: {
        x: { type: 'linear', min: -0.04, max: 0.2, display: false },
        y: { min: -15, max: 15, display: false }
      },
      plugins: { legend: { display: false }, tooltip: { enabled: false } }
    },
    plugins: [makeDecor(p)]
  });
});
</script>
</body>
</html>
